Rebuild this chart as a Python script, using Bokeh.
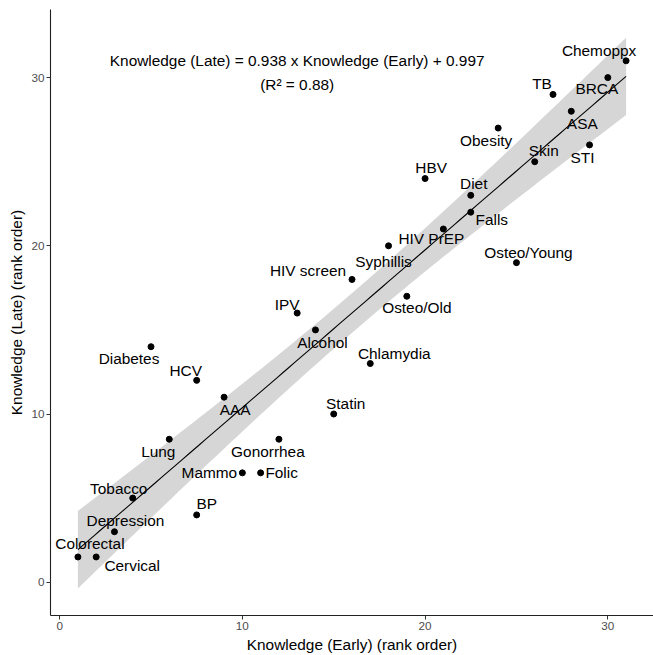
import numpy as np
from bokeh.plotting import figure
from bokeh.models import ColumnDataSource, Range1d, Label
from bokeh.core.properties import value
from bokeh.embed import file_html
from bokeh.resources import INLINE

# Topics with their knowledge rank in the early and late cohorts
topics = ["Colorectal", "Cervical", "Depression", "Tobacco", "Diabetes", "Lung", "HCV", "BP",
          "AAA", "Mammo", "Folic", "Gonorrhea", "IPV", "Alcohol", "Statin", "HIV screen",
          "Chlamydia", "Syphillis", "Osteo/Old", "HBV", "HIV PrEP", "Diet", "Falls", "Obesity",
          "Osteo/Young", "Skin", "TB", "ASA", "STI", "BRCA", "Chemoppx"]
early_rank = [1, 2, 3, 4, 5, 6, 7.5, 7.5, 9, 10, 11, 12, 13, 14, 15, 16,
              17, 18, 19, 20, 21, 22.5, 22.5, 24, 25, 26, 27, 28, 29, 30, 31]
late_rank = [1.5, 1.5, 3, 5, 14, 8.5, 12, 4, 11, 6.5, 6.5, 8.5, 16, 15, 10, 18,
             13, 20, 17, 24, 21, 23, 22, 27, 19, 25, 29, 28, 26, 30, 31]

# Fitted regression reported on the chart
slope = 0.938
intercept = 0.997
r_squared = 0.88

# Label placement (screen pixels relative to each point; +y is downward)
label_dx = [12, 36, 11, -14, -22, -11, -11, 10, 11, -33, 21, -11, -10, 7, 12, -44,
            24, -5, 10, 6, -12, 3, 21, -12, 12, 9, -11, 11, -7, -11, -27]
label_dy = [-13, 9, -11, -10, 12, 12, -10, -11, 12, 0, 0, 12, -9, 13, -11, -9,
            -10, 16, 11, -11, 10, -12, 7, 12, -10, -11, -11, 12, 13, 11, -10]

FONT = "Liberation Sans"

x = np.array(early_rank, dtype=float)
y = np.array(late_rank, dtype=float)
n = len(x)

# 95% confidence band around the fitted line
resid = y - (slope * x + intercept)
s = np.sqrt(np.sum(resid ** 2) / (n - 2))
sxx = np.sum((x - x.mean()) ** 2)
t_crit = 2.045  # t(0.975, df=29)
xg = np.linspace(x.min(), x.max(), 100)
fit = slope * xg + intercept
se = s * np.sqrt(1.0 / n + (xg - x.mean()) ** 2 / sxx)

p = figure(width=653, height=655, output_backend="svg", toolbar_location=None,
           x_range=Range1d(-0.5, 32.5), y_range=Range1d(-1.98, 34.05),
           min_border_left=50, min_border_right=0, min_border_top=9, min_border_bottom=39)
p.outline_line_color = None
p.xgrid.visible = False
p.ygrid.visible = False
p.background_fill_color = "white"
p.border_fill_color = "white"

p.varea(x=xg, y1=fit - t_crit * se, y2=fit + t_crit * se,
        fill_color="#999999", fill_alpha=0.4)
p.line(xg, fit, line_color="black", line_width=1.1)

src = ColumnDataSource(dict(x=x, y=y, name=topics, dx=label_dx, dy=label_dy))
p.scatter("x", "y", source=src, size=6, color="black")
p.text("x", "y", text="name", x_offset="dx", y_offset="dy", source=src,
       text_font=value(FONT), text_font_size="15.4px", text_color="black",
       text_align="center", text_baseline="middle")

eq = f"Knowledge (Late) = {slope} x Knowledge (Early) + {intercept}"
p.add_layout(Label(x=13, y=31, text=eq, text_font=FONT, text_font_size="15.4px",
                   text_align="center", text_baseline="middle", text_color="black"))
p.add_layout(Label(x=13, y=29.6, text=f"(R\u00b2 = {r_squared})", text_font=FONT,
                   text_font_size="15.4px", text_align="center", text_baseline="middle",
                   text_color="black"))

for ax in (p.xaxis[0], p.yaxis[0]):
    ax.ticker = [0, 10, 20, 30]
    ax.minor_tick_line_color = None
    ax.major_tick_in = 0
    ax.major_tick_out = 4
    ax.major_tick_line_color = "#333333"
    ax.axis_line_color = "#222222"
    ax.axis_line_width = 1.1
    ax.major_label_text_font = FONT
    ax.major_label_text_font_size = "11.7px"
    ax.major_label_text_color = "#4D4D4D"
    ax.major_label_standoff = 2
    ax.axis_label_text_font = FONT
    ax.axis_label_text_font_size = "15.4px"
    ax.axis_label_text_font_style = "normal"
    ax.axis_label_text_color = "black"
    ax.axis_label_standoff = 3

p.xaxis.axis_label = "Knowledge (Early) (rank order)"
p.yaxis.axis_label = "Knowledge (Late) (rank order)"

open("out.html", "w").write(file_html(p, INLINE))
